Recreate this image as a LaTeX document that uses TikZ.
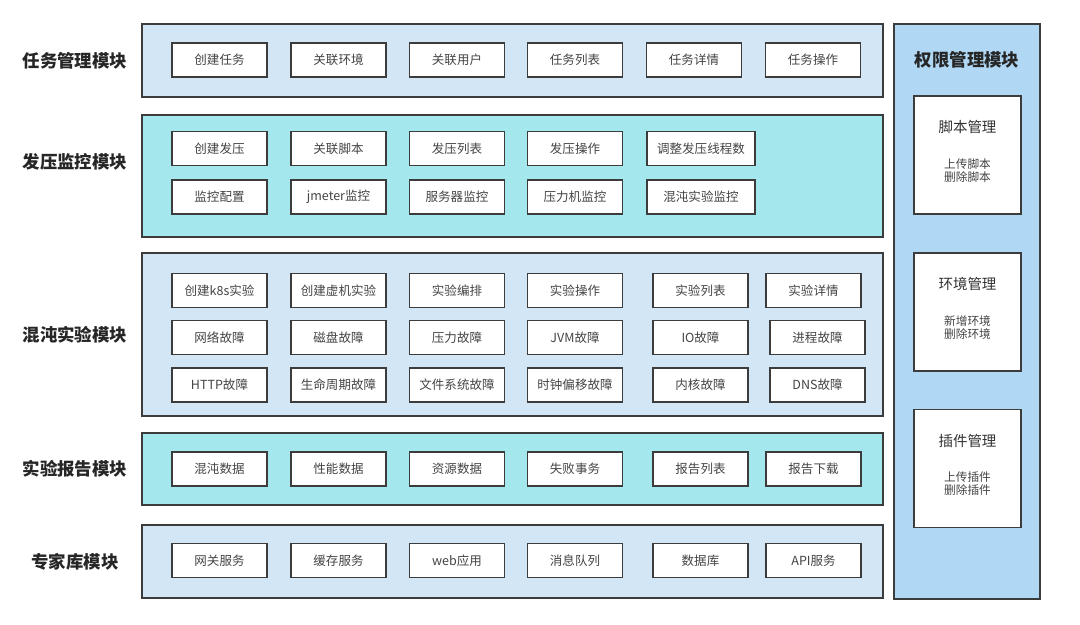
\documentclass[tikz,border=0pt]{standalone}
\usepackage{fontspec}
\setmainfont{Noto Sans CJK SC}
\usepackage{tikz}
\usetikzlibrary{positioning}

\definecolor{bandblue}{RGB}{210,230,245}
\definecolor{bandteal}{RGB}{164,232,237}
\definecolor{sideblue}{RGB}{176,216,245}
\definecolor{edge}{RGB}{60,60,60}
\definecolor{txt}{RGB}{68,68,68}

\begin{document}
\begin{tikzpicture}[
    x=0.025cm, y=-0.025cm,
    band/.style={draw=edge, line width=1.2pt},
    item/.style={draw=edge, line width=1.2pt, fill=white, minimum width=2.375cm, minimum height=0.85cm, inner sep=0pt, font=\fontsize{8.9}{10}\selectfont, text=txt},
    wide/.style={item, minimum width=2.7cm},
    rowlabel/.style={font=\fontsize{12.4}{14}\selectfont\bfseries, text=black!85},
    subbox/.style={draw=edge, line width=1.2pt, fill=white, minimum width=2.675cm, minimum height=2.95cm, inner sep=0pt},
    subtitle/.style={font=\fontsize{10.3}{12}\selectfont, text=black!80},
    subtext/.style={font=\fontsize{8.3}{9.3}\selectfont, text=txt, align=center}
]
\useasboundingbox (0,0) rectangle (1080,625);

% module bands
\draw[band, fill=bandblue] (142,24) rectangle (883,97);
\draw[band, fill=bandteal] (142,115) rectangle (883,237);
\draw[band, fill=bandblue] (142,253) rectangle (883,416);
\draw[band, fill=bandteal] (142,433) rectangle (883,505);
\draw[band, fill=bandblue] (142,525) rectangle (883,598);
\draw[band, fill=sideblue] (894,24) rectangle (1040,599);

% row labels
\node[rowlabel] (l1) at (75,60.5) {任务管理模块};
\node[rowlabel] (l2) at (75,162) {发压监控模块};
\node[rowlabel] (l3) at (75,334.5) {混沌实验模块};
\node[rowlabel] (l4) at (75,469) {实验报告模块};
\node[rowlabel] (l5) at (75,561.5) {专家库模块};

% 任务管理
\node[item] (t1) at (219.5,60) {创建任务};
\node[item] (t2) at (338.5,60) {关联环境};
\node[item] (t3) at (457,60) {关联用户};
\node[item] (t4) at (575,60) {任务列表};
\node[item] (t5) at (694,60) {任务详情};
\node[item] (t6) at (813,60) {任务操作};

% 发压监控
\node[item] (p1) at (219.5,148.5) {创建发压};
\node[item] (p2) at (338.5,148.5) {关联脚本};
\node[item] (p3) at (457,148.5) {发压列表};
\node[item] (p4) at (575,148.5) {发压操作};
\node[wide] (p5) at (701,148.5) {调整发压线程数};
\node[item] (m1) at (219.5,197) {监控配置};
\node[item] (m2) at (338.5,197) {jmeter监控};
\node[item] (m3) at (457,197) {服务器监控};
\node[item] (m4) at (575,197) {压力机监控};
\node[wide] (m5) at (701,197) {混沌实验监控};

% 混沌实验
\node[item] (c1) at (219.5,290.5) {创建k8s实验};
\node[item] (c2) at (338.5,290.5) {创建虚机实验};
\node[item] (c3) at (457,290.5) {实验编排};
\node[item] (c4) at (575,290.5) {实验操作};
\node[item] (c5) at (700.5,290.5) {实验列表};
\node[item] (c6) at (813.5,290.5) {实验详情};
\node[item] (f1) at (219.5,337.5) {网络故障};
\node[item] (f2) at (338.5,337.5) {磁盘故障};
\node[item] (f3) at (457,337.5) {压力故障};
\node[item] (f4) at (575,337.5) {JVM故障};
\node[item] (f5) at (700.5,337.5) {IO故障};
\node[item] (f6) at (817.5,337.5) {进程故障};
\node[item] (g1) at (219.5,385) {HTTP故障};
\node[item] (g2) at (338.5,385) {生命周期故障};
\node[item] (g3) at (457,385) {文件系统故障};
\node[item] (g4) at (575,385) {时钟偏移故障};
\node[item] (g5) at (700.5,385) {内核故障};
\node[item] (g6) at (817.5,385) {DNS故障};

% 实验报告
\node[item] (r1) at (219.5,469) {混沌数据};
\node[item] (r2) at (338.5,469) {性能数据};
\node[item] (r3) at (457,469) {资源数据};
\node[item] (r4) at (575,469) {失败事务};
\node[item] (r5) at (700.5,469) {报告列表};
\node[item] (r6) at (813.5,469) {报告下载};

% 专家库
\node[item] (e1) at (219.5,560.5) {网关服务};
\node[item] (e2) at (338.5,560.5) {缓存服务};
\node[item] (e3) at (457,560.5) {web应用};
\node[item] (e4) at (575,560.5) {消息队列};
\node[item] (e5) at (700.5,560.5) {数据库};
\node[item] (e6) at (813.5,560.5) {API服务};

% 权限管理
\node[rowlabel] (q0) at (967,60) {权限管理模块};
\node[subbox] (q1) at (967.5,155) {};
\node[subtitle] (q1t) at (967.5,127) {脚本管理};
\node[subtext] (q1s) at (967.5,170.5) {上传脚本\\删除脚本};
\node[subbox] (q2) at (967.5,312) {};
\node[subtitle] (q2t) at (967.5,284) {环境管理};
\node[subtext] (q2s) at (967.5,327.5) {新增环境\\删除环境};
\node[subbox] (q3) at (967.5,468.5) {};
\node[subtitle] (q3t) at (967.5,440.5) {插件管理};
\node[subtext] (q3s) at (967.5,484) {上传插件\\删除插件};
\end{tikzpicture}
\end{document}
